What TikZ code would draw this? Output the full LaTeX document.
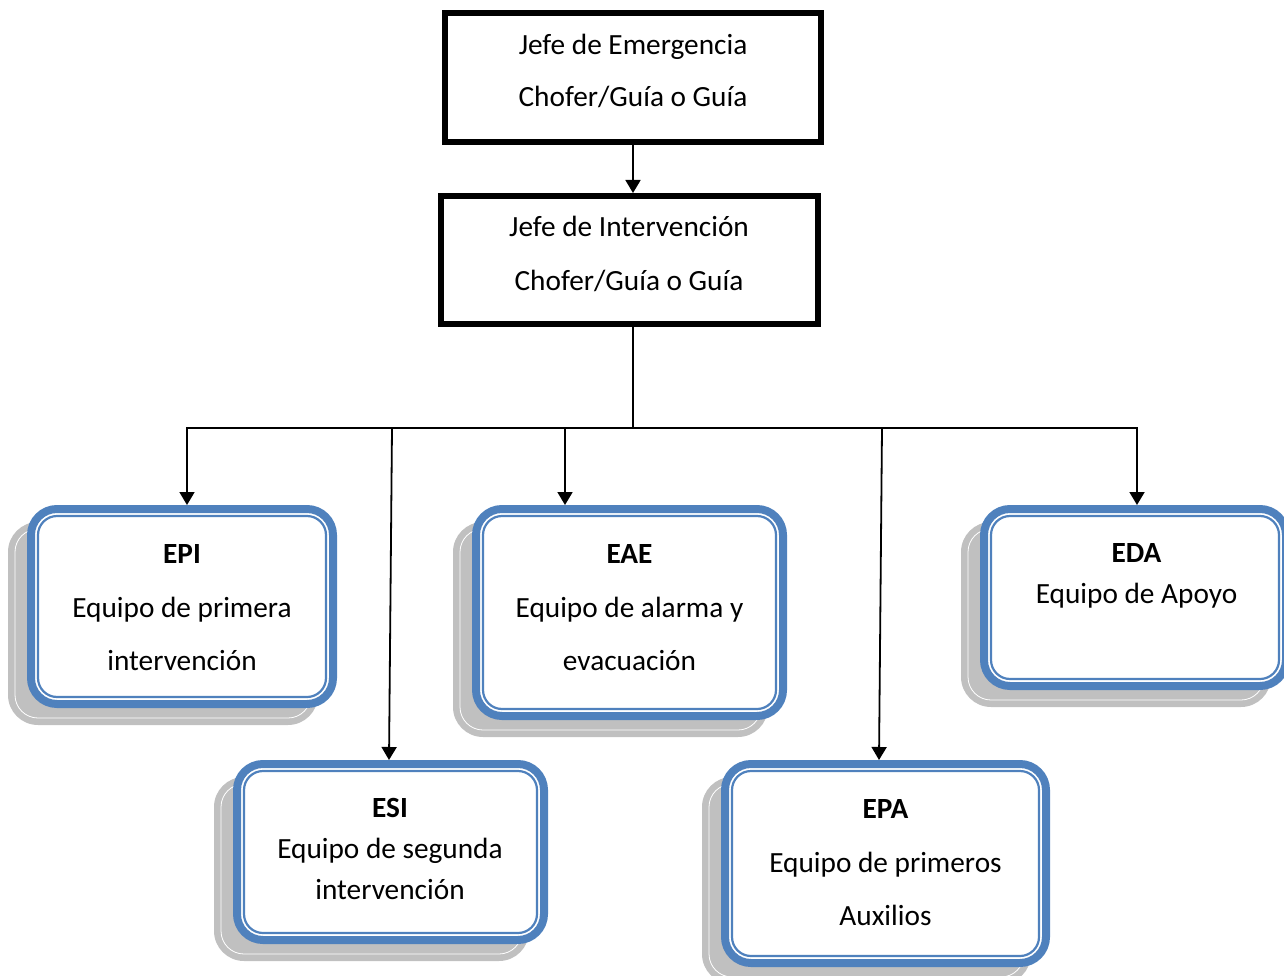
\documentclass[tikz,border=0pt]{standalone}
\usepackage{fontspec}
\setmainfont{Carlito}
\usetikzlibrary{arrows.meta,calc,backgrounds}
\definecolor{teamblue}{HTML}{4F81BD}
\definecolor{shadowgray}{HTML}{C0C0C0}

\tikzset{
  chief/.style={draw=black, line width=6pt, fill=white, inner sep=0pt, outer sep=3pt},
  team/.style={draw=teamblue, line width=8pt, fill=white, rounded corners=26pt,
               inner sep=0pt, outer sep=4pt},
  teaminner/.style={draw=teamblue, line width=2.2pt, rounded corners=19pt},
  teamshadow/.style={fill=shadowgray, rounded corners=30pt},
  shadowedge/.style={draw=white, line width=0.8pt, rounded corners=23pt},
  txt/.style={anchor=base, inner sep=0pt, font=\fontsize{29.3}{35}\selectfont},
  link/.style={line width=1.8pt, draw=black},
  arrowlink/.style={link, -{Triangle[width=15pt,length=13pt]}},
}

% inner blue line and grey offset shadow of a team box
\newcommand{\teamdeco}[1]{%
  \draw[teaminner] ($(#1.north west)+(11,11)$) rectangle ($(#1.south east)+(-11,-11)$);
  \begin{pgfonlayer}{background}
    \fill[teamshadow] ($(#1.north west)+(-19,17)$) rectangle ($(#1.south east)+(-19,17)$);
    \draw[shadowedge] ($(#1.north west)+(-12,24)$) rectangle ($(#1.south east)+(-26,10)$);
  \end{pgfonlayer}%
}

\begin{document}
\begin{tikzpicture}[x=1pt, y=-1pt]
  \useasboundingbox (0,0) rectangle (1284,976);

  % command chain
  \node[chief, minimum width=376pt, minimum height=129pt] (jefeE) at (633,77.5) {};
  \node[chief, minimum width=377pt, minimum height=128pt] (jefeI) at (629.5,260) {};
  \node[txt] (tE1) at (633,55)  {Jefe de Emergencia};
  \node[txt] (tE2) at (633,107) {Chofer/Guía o Guía};
  \node[txt] (tI1) at (629,237) {Jefe de Intervención};
  \node[txt] (tI2) at (629,290) {Chofer/Guía o Guía};

  % teams
  \node[team, minimum width=302pt, minimum height=195pt] (epi) at (182,606.5) {};
  \node[team, minimum width=307pt, minimum height=207pt] (eae) at (629.5,612.5) {};
  \node[team, minimum width=302pt, minimum height=177pt] (eda) at (1135,597.5) {};
  \node[team, minimum width=307pt, minimum height=176pt] (esi) at (390.5,852) {};
  \node[team, minimum width=321pt, minimum height=199pt] (epa) at (885.5,863.5) {};
  \teamdeco{epi}
  \teamdeco{eae}
  \teamdeco{eda}
  \teamdeco{esi}
  \teamdeco{epa}

  \node[txt] (epi1) at (182,563) {\textbf{EPI}};
  \node[txt] (epi2) at (182,617) {Equipo de primera};
  \node[txt] (epi3) at (182,670) {intervención};

  \node[txt] (eae1) at (629.5,563) {\textbf{EAE}};
  \node[txt] (eae2) at (629.5,617) {Equipo de alarma y};
  \node[txt] (eae3) at (629.5,670) {evacuación};

  \node[txt] (eda1) at (1136.5,562) {\textbf{EDA}};
  \node[txt] (eda2) at (1136.5,603) {Equipo de Apoyo};

  \node[txt] (esi1) at (390,817) {\textbf{ESI}};
  \node[txt] (esi2) at (390,858) {Equipo de segunda};
  \node[txt] (esi3) at (390,899) {intervención};

  \node[txt] (epa1) at (885.5,818) {\textbf{EPA}};
  \node[txt] (epa2) at (885.5,872) {Equipo de primeros};
  \node[txt] (epa3) at (885.5,925) {Auxilios};

  % distribution bus
  \coordinate (busJ) at (633,428);
  \coordinate (busL) at (187,428);
  \coordinate (busB) at (392,428);
  \coordinate (busC) at (565,428);
  \coordinate (busD) at (882,428);
  \coordinate (busR) at (1137,428);

  \draw[arrowlink] (jefeE.south) -- (jefeE.south |- jefeI.north);
  \draw[link] (jefeI.south -| busJ) -- (busJ);
  \draw[link, line cap=rect] (busL) -- (busR);
  \draw[arrowlink] (busL) -- (busL |- epi.north);
  \draw[arrowlink] (busB) -- ($(esi.north)+(-1.5,0)$);
  \draw[arrowlink] (busC) -- (busC |- eae.north);
  \draw[arrowlink] (busD) -- ($(epa.north)+(-6.5,0)$);
  \draw[arrowlink] (busR) -- (busR |- eda.north);
\end{tikzpicture}
\end{document}
